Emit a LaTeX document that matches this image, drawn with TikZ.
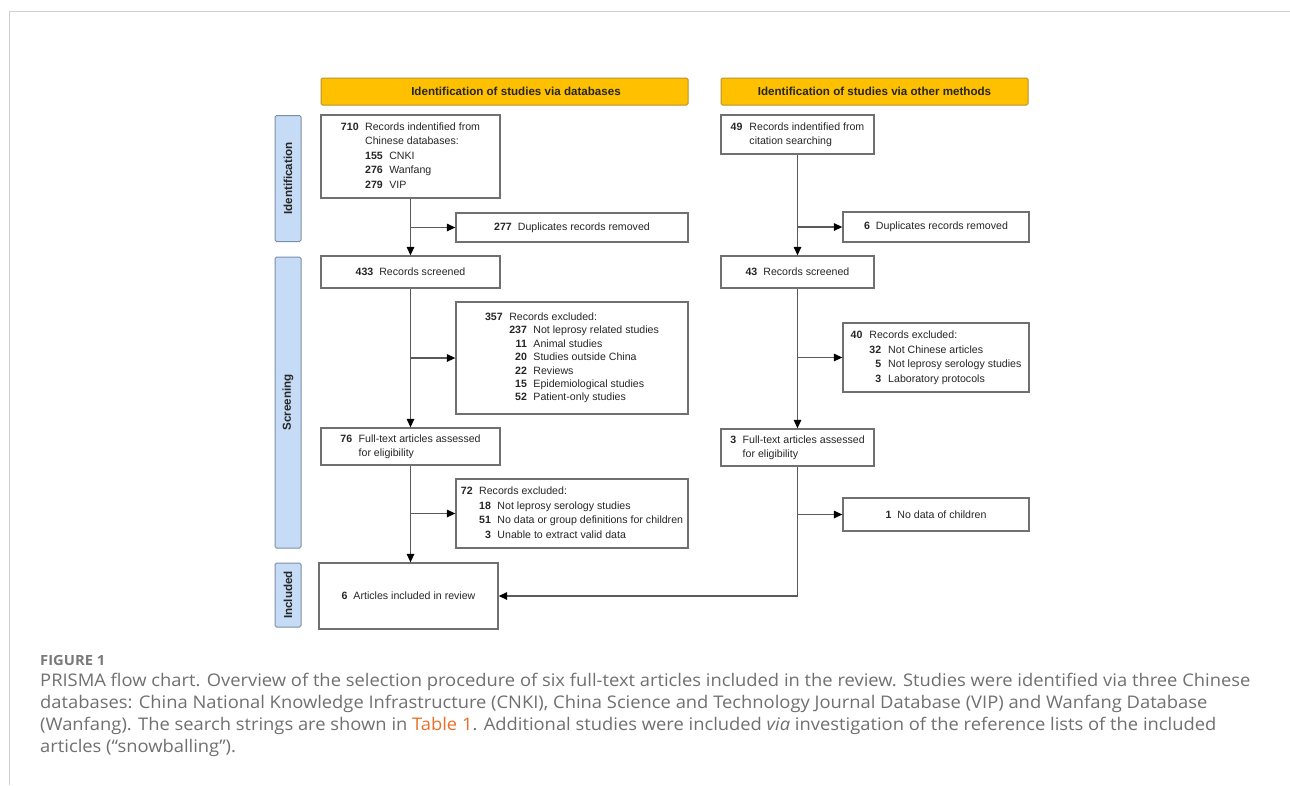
\documentclass[tikz,border=0pt]{standalone}
\usepackage{fontspec}
\setmainfont{Liberation Sans}
\newfontfamily\capfont[FakeStretch=1.055]{Open Sans}
\usetikzlibrary{arrows.meta,positioning,calc}
\definecolor{hdrfill}{HTML}{FFC000}
\definecolor{hdrdraw}{HTML}{B8922A}
\definecolor{sidefill}{HTML}{C6DCF6}
\definecolor{sidedraw}{HTML}{7D8EA8}
\definecolor{boxdraw}{HTML}{707070}
\definecolor{linecol}{HTML}{5A5A5A}
\definecolor{txt}{HTML}{262626}
\definecolor{captxt}{HTML}{707070}
\definecolor{capfig}{HTML}{7A7A7A}
\definecolor{tabref}{HTML}{E8702A}
\definecolor{framecol}{HTML}{CFCFCF}
\newcommand{\boxfont}{\fontsize{10.6}{14.5}\selectfont}
\newcommand{\hdrfont}{\fontsize{11.6}{14}\selectfont\bfseries}
\newcommand{\nb}[1]{\textbf{#1}}
\begin{document}
\begin{tikzpicture}[x=1pt,y=-1pt,
  hdr/.style={draw=hdrdraw,fill=hdrfill,line width=1pt,rounded corners=1.5pt,inner sep=0pt,font=\hdrfont,text=txt},
  side/.style={draw=sidedraw,fill=sidefill,line width=1pt,rounded corners=1.5pt,inner sep=0pt,font=\hdrfont,text=txt},
  bx/.style={draw=boxdraw,fill=white,line width=1.3pt,inner sep=0pt,font=\boxfont,text=txt,align=left},
  arr/.style={draw=linecol,line width=1.3pt,-{Triangle[length=8.5pt,width=7.5pt,color=black]}},
  ln/.style={draw=linecol,line width=1.3pt}
]
\useasboundingbox (0,0) rectangle (1290,785);
\fill[white] (0,0) rectangle (1290,785);
\draw[framecol,line width=1pt] (9,785) -- (9,11) -- (1290,11);

% headers
\node[hdr,minimum width=367pt,minimum height=27pt] (hdrL) at (504.5,91.5) {\hspace{23pt}Identification of studies via databases};
\node[hdr,minimum width=307pt,minimum height=27pt] (hdrR) at (874.5,91.5) {Identification of studies via other methods};

% side labels
\node[side,minimum width=126pt,minimum height=26pt,rotate=90] (sideI) at (288,178.5) {Identification};
\node[side,minimum width=291pt,minimum height=26pt,rotate=90] (sideS) at (288,402.5) {Screening};
\node[side,minimum width=64pt,minimum height=26pt,rotate=90] (sideN) at (288,595) {Included};

% left column
\node[bx,minimum width=179pt,minimum height=83pt] (A) at (410.5,156.5) {%
\begin{tabular}{@{}r@{\hspace{6.5pt}}r@{\hspace{6.5pt}}l@{}}
\nb{710} & \multicolumn{2}{@{}l@{}}{Records indentified from}\\
 & \multicolumn{2}{@{}l@{}}{Chinese databases:}\\
 & \nb{155} & CNKI\\
 & \nb{276} & Wanfang\\
 & \nb{279} & VIP
\end{tabular}};
\node[bx,minimum width=232pt,minimum height=29pt] (dupL) at (572,227.5) {\nb{277}\hspace{6pt}Duplicates records removed};
\node[bx,minimum width=179pt,minimum height=32pt] (scrL) at (410.5,272) {\nb{433}\hspace{6pt}Records screened};
\node[bx,minimum width=232pt,minimum height=112pt] (exL1) at (572,358) {\fontsize{10.6}{13.4}\selectfont
\begin{tabular}{@{}r@{\hspace{6.5pt}}r@{\hspace{6.5pt}}l@{}}
\nb{357} & \multicolumn{2}{@{}l@{}}{Records excluded:}\\
 & \nb{237} & Not leprosy related studies\\
 & \nb{11} & Animal studies\\
 & \nb{20} & Studies outside China\\
 & \nb{22} & Reviews\\
 & \nb{15} & Epidemiological studies\\
 & \nb{52} & Patient-only studies
\end{tabular}};
\node[bx,minimum width=179pt,minimum height=37pt] (ftL) at (410.5,446.5) {%
\begin{tabular}{@{}r@{\hspace{6.5pt}}l@{}}
\nb{76} & Full-text articles assessed\\
 & for eligibility
\end{tabular}};
\node[bx,minimum width=232pt,minimum height=69pt] (exL2) at (572,513.5) {%
\begin{tabular}{@{}r@{\hspace{6.5pt}}r@{\hspace{6.5pt}}l@{}}
\nb{72} & \multicolumn{2}{@{}l@{}}{Records excluded:}\\
 & \nb{18} & Not leprosy serology studies\\
 & \nb{51} & No data or group definitions for children\\
 & \nb{3} & Unable to extract valid data
\end{tabular}};
\node[bx,minimum width=179pt,minimum height=66pt] (inc) at (408.5,596) {\nb{6}\hspace{6pt}Articles included in review};

% right column
\node[bx,minimum width=153pt,minimum height=39pt] (B) at (797.5,134.5) {%
\begin{tabular}{@{}r@{\hspace{7pt}}l@{}}
\nb{49} & Records indentified from\\
 & citation searching
\end{tabular}};
\node[bx,minimum width=186pt,minimum height=30pt] (dupR) at (936,227) {\nb{6}\hspace{6pt}Duplicates records removed};
\node[bx,minimum width=153pt,minimum height=32pt] (scrR) at (797.5,272) {\nb{43}\hspace{6pt}Records screened};
\node[bx,minimum width=186pt,minimum height=69pt] (exR1) at (936,357.5) {%
\begin{tabular}{@{}r@{\hspace{7pt}}r@{\hspace{7pt}}l@{}}
\nb{40} & \multicolumn{2}{@{}l@{}}{Records excluded:}\\
 & \nb{32} & Not Chinese articles\\
 & \nb{5} & Not leprosy serology studies\\
 & \nb{3} & Laboratory protocols
\end{tabular}};
\node[bx,minimum width=153pt,minimum height=37pt] (ftR) at (797.5,447.5) {%
\begin{tabular}{@{}r@{\hspace{6.5pt}}l@{}}
\nb{3} & Full-text articles assessed\\
 & for eligibility
\end{tabular}};
\node[bx,minimum width=186pt,minimum height=33pt] (exR2) at (936,514.5) {\nb{1}\hspace{6pt}No data of children};

% connectors left
\draw[arr] (A.south) -- (A.south |- scrL.north);
\draw[arr] (A.south |- dupL.west) -- (dupL.west);
\draw[arr] (scrL.south) -- (scrL.south |- ftL.north);
\draw[arr] (scrL.south |- exL1.west) -- (exL1.west);
\draw[arr] (ftL.south) -- (ftL.south |- inc.north);
\draw[arr] (ftL.south |- exL2.west) -- (exL2.west);
% connectors right
\coordinate (bend) at (ftR.south |- inc.east);
\draw[arr] (B.south) -- (B.south |- scrR.north);
\draw[arr] (B.south |- dupR.west) -- (dupR.west);
\draw[arr] (scrR.south) -- (scrR.south |- ftR.north);
\draw[arr] (scrR.south |- exR1.west) -- (exR1.west);
\draw[ln] (ftR.south) -- (bend);
\draw[arr] (bend) -- (inc.east);
\draw[arr] (ftR.south |- exR2.west) -- (exR2.west);

% caption
\node[anchor=base west,inner sep=0pt,text=capfig,font=\capfont\fontsize{14}{16}\selectfont\bfseries] (figlab) at (40,665) {FIGURE 1};
\node[anchor=north west,inner sep=0pt,text=captxt,align=left,font=\capfont\fontsize{17.4}{22}\selectfont] (cap) at (40,673) {%
PRISMA flow chart. Overview of the selection procedure of six full-text articles included in the review. Studies were identified via three Chinese\\
databases: China National Knowledge Infrastructure (CNKI), China Science and Technology Journal Database (VIP) and Wanfang Database\\
(Wanfang). The search strings are shown in \textcolor{tabref}{Table 1}. Additional studies were included \textit{via} investigation of the reference lists of the included\\
articles (“snowballing”).};
\end{tikzpicture}
\end{document}
